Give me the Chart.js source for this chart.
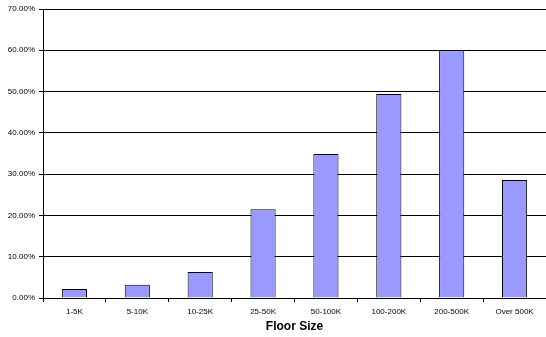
<!DOCTYPE html>
<html>
<head>
<meta charset="utf-8">
<script src="https://cdn.jsdelivr.net/npm/chart.js@4/dist/chart.umd.min.js"></script>
<style>
  html, body { margin: 0; padding: 0; background: #fff; }
  #c { display: block; }
</style>
</head>
<body>
<canvas id="c" width="546" height="337"></canvas>
<script>
// Share of buildings by floor size (percent)
const categories = ['1-5K', '5-10K', '10-25K', '25-50K', '50-100K', '100-200K', '200-500K', 'Over 500K'];
const shares = [2.2, 3.2, 6.3, 21.5, 34.9, 49.4, 60.0, 28.6];
const yTicks = [0, 10, 20, 30, 40, 50, 60, 70];
const xTitle = 'Floor Size';

const FONT = '"Liberation Sans", Arial, sans-serif';

new Chart(document.getElementById('c'), {
  type: 'bar',
  data: {
    labels: categories,
    datasets: [{
      data: shares,
      backgroundColor: '#9999FF',
      borderColor: '#000000',
      borderWidth: 1,
      borderSkipped: 'bottom',
      barPercentage: 0.4,
      categoryPercentage: 1.0
    }]
  },
  options: {
    responsive: false,
    animation: false,
    layout: { padding: { top: 9, right: 0, bottom: 0, left: 0 } },
    plugins: {
      legend: { display: false },
      tooltip: { enabled: false }
    },
    scales: {
      x: {
        offset: true,
        grid: {
          offset: true,
          drawOnChartArea: false,
          drawTicks: true,
          tickLength: 4,
          color: '#000'
        },
        border: { display: true, color: '#000', width: 1 },
        ticks: {
          color: '#000',
          font: { family: FONT, size: 8 },
          padding: 5,
          maxRotation: 0,
          autoSkip: false
        },
        title: {
          display: true,
          text: xTitle,
          color: '#000',
          font: { family: FONT, size: 12, weight: 'bold' },
          padding: { top: 0, bottom: 3 }
        },
        afterFit(scale) { scale.height = 39; }
      },
      y: {
        min: 0,
        max: 70,
        afterBuildTicks(scale) {
          scale.ticks = yTicks.map(v => ({ value: v }));
        },
        grid: {
          color: '#000',
          lineWidth: 1,
          drawTicks: true,
          tickLength: 4
        },
        border: { display: true, color: '#000', width: 1 },
        ticks: {
          color: '#000',
          font: { family: FONT, size: 8 },
          padding: 4,
          callback: v => Number(v).toFixed(2) + '%'
        },
        afterFit(scale) { scale.width = 43; }
      }
    }
  }
});
</script>
</body>
</html>
